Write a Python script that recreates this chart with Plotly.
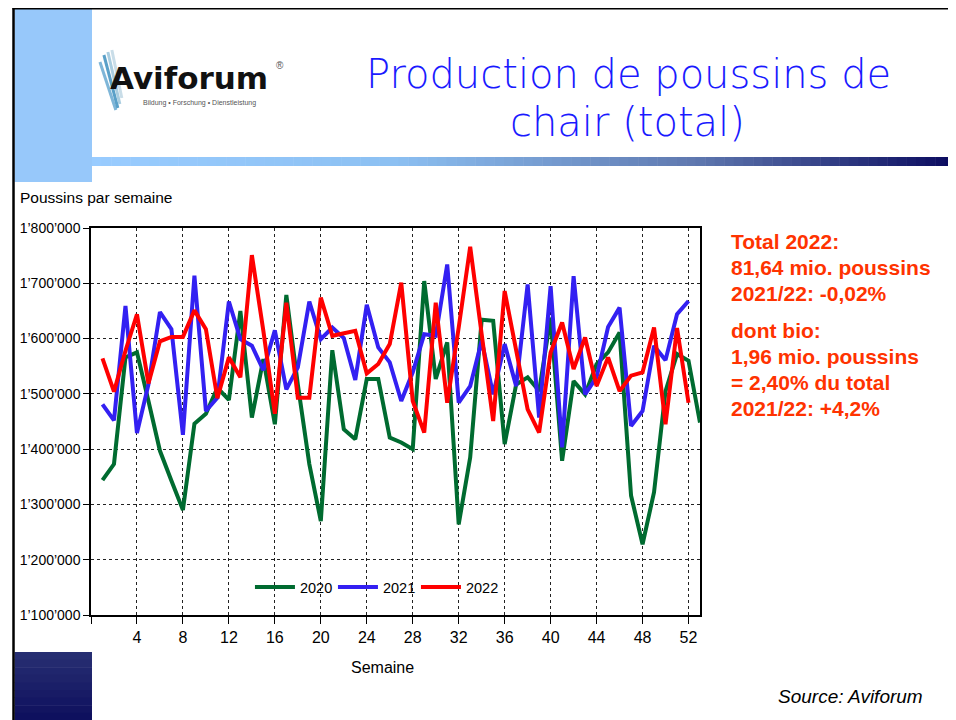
import plotly.graph_objects as go

# ---------------- data (thousands of chicks per week) ----------------
weeks_2020 = list(range(1, 54))
weeks_2021 = list(range(1, 53))
weeks_2022 = list(range(1, 53))

v2020 = [1344, 1373, 1566, 1575, 1487, 1397, 1343, 1290, 1446, 1464,
         1511, 1489, 1650, 1457, 1563, 1445, 1679, 1517, 1373, 1270,
         1579, 1436, 1418, 1527, 1527, 1421, 1412, 1400, 1704, 1527,
         1593, 1264, 1385, 1634, 1632, 1409, 1517, 1530, 1505, 1638,
         1379, 1523, 1499, 1554, 1575, 1611, 1316, 1228, 1322, 1505,
         1572, 1560, 1448]
v2021 = [1481, 1452, 1659, 1429, 1517, 1648, 1617, 1426, 1714, 1469,
         1493, 1667, 1599, 1587, 1543, 1615, 1508, 1548, 1667, 1599,
         1620, 1601, 1525, 1661, 1584, 1557, 1487, 1539, 1608, 1605,
         1734, 1484, 1514, 1596, 1499, 1590, 1514, 1698, 1457, 1695,
         1403, 1713, 1499, 1530, 1621, 1656, 1442, 1469, 1587, 1561,
         1644, 1668]
v2022 = [1564, 1504, 1578, 1644, 1519, 1595, 1603, 1603, 1651, 1617,
         1492, 1566, 1530, 1751, 1614, 1464, 1665, 1493, 1493, 1674,
         1605, 1609, 1614, 1537, 1554, 1590, 1701, 1487, 1430, 1665,
         1484, 1620, 1766, 1608, 1451, 1686, 1578, 1472, 1430, 1575,
         1629, 1545, 1602, 1514, 1566, 1505, 1533, 1539, 1620, 1445,
         1619, 1484]

series_names = ["2020", "2021", "2022"]
series_colors = ["#006b30", "#3320f2", "#ff0000"]

x_tickvals = list(range(0, 53, 4))
x_ticktext = [""] + [str(v) for v in range(4, 53, 4)]
y_tickvals = [1100000, 1200000, 1300000, 1400000, 1500000, 1600000, 1700000, 1800000]
y_ticktext = ["1’100’000", "1’200’000", "1’300’000", "1’400’000",
              "1’500’000", "1’600’000", "1’700’000", "1’800’000"]

info_lines_1 = ["Total 2022:", "81,64 mio. poussins", "2021/22: -0,02%"]
info_lines_2 = ["dont bio:", "1,96 mio. poussins", "= 2,40% du total", "2021/22: +4,2%"]

# ---------------- layout geometry (screen pixels; page body adds 8px offset) ----------------
W, H = 956, 720
OFF = 8
L, R, T, B = 87, 700, 228, 615


def px(x):
    return (x - L) / (R - L)


def py(y):
    return (B - y) / (B - T)


fig = go.Figure()
for xs, vals, name, col in zip([weeks_2020, weeks_2021, weeks_2022],
                               [v2020, v2021, v2022], series_names, series_colors):
    fig.add_trace(go.Scatter(x=xs, y=[v * 1000 for v in vals], mode="lines", name=name,
                             line=dict(color=col, width=4)))

shapes = []
# left light-blue block
shapes.append(dict(type="rect", xref="paper", yref="paper", x0=px(10), x1=px(88), y0=py(182), y1=py(9),
                   fillcolor="#97c8fa", line=dict(width=0), layer="below"))
# gradient band
stops = [(0.0, (153, 204, 255)), (0.35, (140, 192, 242)), (0.7, (95, 120, 175)), (1.0, (10, 10, 95))]


def grad(t):
    for (t0, c0), (t1, c1) in zip(stops[:-1], stops[1:]):
        if t <= t1:
            f = (t - t0) / (t1 - t0)
            return "rgb(%d,%d,%d)" % tuple(round(a + (b - a) * f) for a, b in zip(c0, c1))
    return "rgb(%d,%d,%d)" % stops[-1][1]


n = 90
x_start, x_end = 88, 956
for i in range(n):
    xa = x_start + (x_end - x_start) * i / n
    xb = x_start + (x_end - x_start) * (i + 1) / n + 0.5
    shapes.append(dict(type="rect", xref="paper", yref="paper", x0=px(xa), x1=px(xb), y0=py(166), y1=py(157),
                       fillcolor=grad((i + 0.5) / n), line=dict(width=0), layer="below"))
# bottom-left navy block
m = 10
for i in range(m):
    ya = 652 + (728 - 652) * i / m
    yb = 652 + (728 - 652) * (i + 1) / m + 0.5
    c0, c1 = (40, 48, 115), (10, 10, 90)
    f = (i + 0.5) / m
    col = "rgb(%d,%d,%d)" % tuple(round(a + (b - a) * f) for a, b in zip(c0, c1))
    shapes.append(dict(type="rect", xref="paper", yref="paper", x0=px(10), x1=px(88), y0=py(yb), y1=py(ya),
                       fillcolor=col, line=dict(width=0), layer="below"))
# black frame lines
shapes.append(dict(type="line", xref="paper", yref="paper", x0=px(8), x1=px(970), y0=py(8.5), y1=py(8.5),
                   line=dict(color="black", width=2)))
shapes.append(dict(type="line", xref="paper", yref="paper", x0=px(9), x1=px(9), y0=py(8), y1=py(730),
                   line=dict(color="black", width=2.5)))
# logo feather strokes
feather_strokes = [((96, 62), (112, 110), "#7fb6d8"), ((100, 55), (114, 108), "#5aa0c8"),
                   ((104, 52), (116, 104), "#a9cde0"), ((108, 50), (118, 98), "#c9dde8")]
for (xa, ya), (xb, yb), c in feather_strokes:
    shapes.append(dict(type="line", xref="paper", yref="paper", x0=px(xa), y0=py(ya), x1=px(xb), y1=py(yb),
                       line=dict(color=c, width=3)))

annotations = []
FONT = "Liberation Sans, Arial, sans-serif"
TITLE_FONT = dict(family="DejaVu Sans, sans-serif", size=40, color="#1a1aff", weight=200)
# title
annotations.append(dict(text="Production de poussins de", x=px(628), y=py(74), xref="paper", yref="paper",
                        showarrow=False, xanchor="center", yanchor="middle", font=TITLE_FONT))
annotations.append(dict(text="chair (total)", x=px(627), y=py(122), xref="paper", yref="paper",
                        showarrow=False, xanchor="center", yanchor="middle", font=TITLE_FONT))
# logo texts
annotations.append(dict(text="<b>Aviforum</b>", x=px(104), y=py(78), xref="paper", yref="paper",
                        showarrow=False, xanchor="left", yanchor="middle",
                        font=dict(family="DejaVu Sans, sans-serif", size=31, color="#111111")))
annotations.append(dict(text="®", x=px(271), y=py(66), xref="paper", yref="paper",
                        showarrow=False, xanchor="left", yanchor="middle",
                        font=dict(family=FONT, size=10, color="#555555")))
annotations.append(dict(text="Bildung • Forschung • Dienstleistung", x=px(137), y=py(103), xref="paper",
                        yref="paper", showarrow=False, xanchor="left", yanchor="middle",
                        font=dict(family=FONT, size=7, color="#555555")))
# axis captions
annotations.append(dict(text="Poussins par semaine", x=px(14), y=py(197), xref="paper", yref="paper",
                        showarrow=False, xanchor="left", yanchor="middle",
                        font=dict(family=FONT, size=15.5, color="black")))
annotations.append(dict(text="Semaine", x=px(380), y=py(667), xref="paper", yref="paper",
                        showarrow=False, xanchor="center", yanchor="middle",
                        font=dict(family=FONT, size=16, color="black")))
# info text
for i, t in enumerate(info_lines_1):
    annotations.append(dict(text="<b>%s</b>" % t, x=px(729), y=py(241 + 26 * i), xref="paper", yref="paper",
                            showarrow=False, xanchor="left", yanchor="middle",
                            font=dict(family=FONT, size=21, color="#ff3300")))
for i, t in enumerate(info_lines_2):
    annotations.append(dict(text="<b>%s</b>" % t, x=px(729), y=py(330 + 26 * i), xref="paper", yref="paper",
                            showarrow=False, xanchor="left", yanchor="middle",
                            font=dict(family=FONT, size=21, color="#ff3300")))
annotations.append(dict(text="<i>Source: Aviforum</i>", x=px(926), y=py(696), xref="paper", yref="paper",
                        showarrow=False, xanchor="right", yanchor="middle",
                        font=dict(family=FONT, size=19, color="black")))

fig.update_layout(
    width=W, height=H,
    margin=dict(l=L - OFF, r=W - (R - OFF), t=T - OFF, b=H - (B - OFF), pad=0),
    paper_bgcolor="white", plot_bgcolor="white",
    font=dict(family=FONT, size=14, color="black"),
    shapes=shapes, annotations=annotations,
    showlegend=True,
    legend=dict(orientation="h", x=px(247), y=py(587), xanchor="left", yanchor="middle",
                bgcolor="rgba(0,0,0,0)", font=dict(family=FONT, size=14.5, color="black"),
                itemwidth=40, entrywidth=28, entrywidthmode="pixels", tracegroupgap=0),
    xaxis=dict(range=[0, 53], tickmode="array", tickvals=x_tickvals, ticktext=x_ticktext,
               showgrid=True, gridcolor="#222222", griddash="dot", gridwidth=1,
               ticks="outside", ticklen=7, tickcolor="black", tickwidth=1,
               showline=True, linecolor="black", linewidth=1.5, mirror=True,
               zeroline=False, tickfont=dict(size=16)),
    yaxis=dict(range=[1100000, 1800000], tickmode="array", tickvals=y_tickvals, ticktext=y_ticktext,
               showgrid=True, gridcolor="#222222", griddash="dot", gridwidth=1,
               ticks="outside", ticklen=6, tickcolor="black", tickwidth=1,
               showline=True, linecolor="black", linewidth=1.5, mirror=True,
               zeroline=False, tickfont=dict(size=14)),
)

fig.write_html("out.html")
